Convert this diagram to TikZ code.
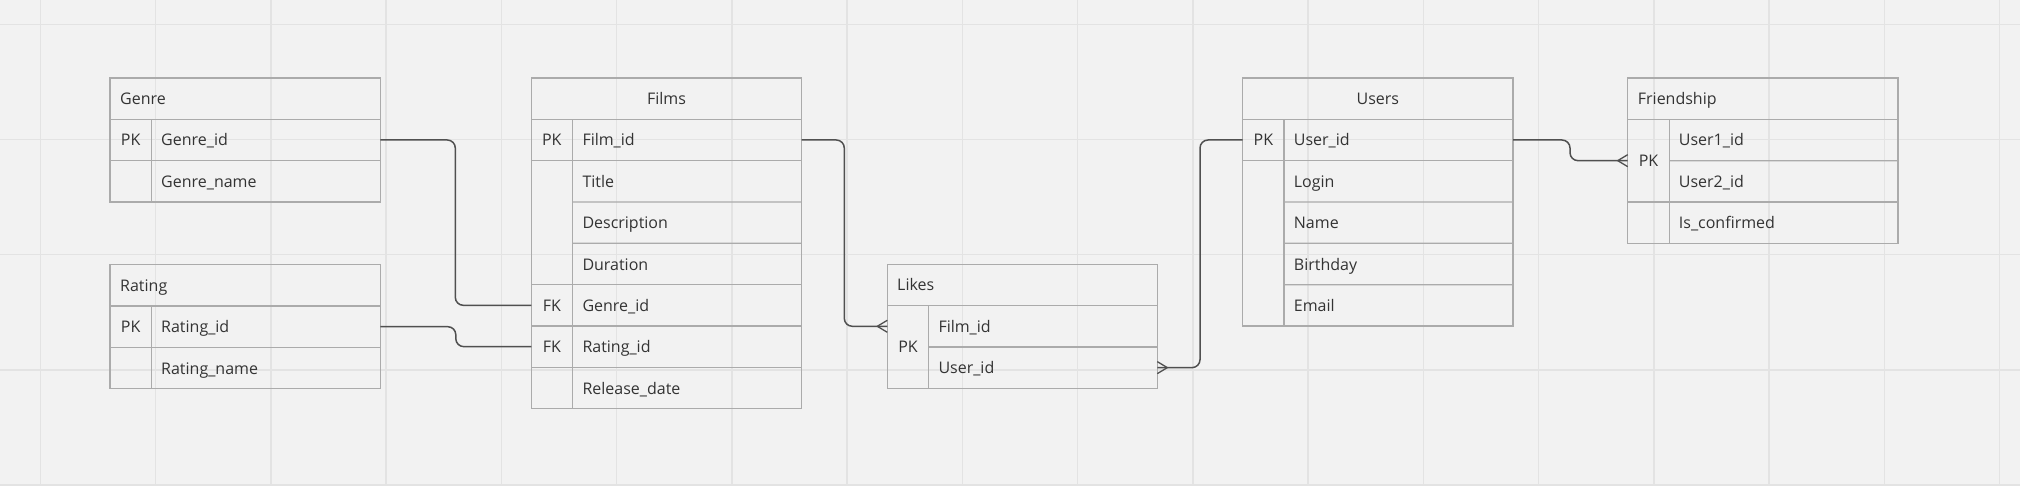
\documentclass[tikz,border=0pt]{standalone}
\usepackage{fontspec}
\setmainfont{Open Sans}
\definecolor{bgc}{HTML}{F2F2F2}
\definecolor{gridc}{HTML}{E3E3E3}
\definecolor{boxc}{HTML}{ABABAB}
\definecolor{connc}{HTML}{505050}
\definecolor{txtc}{HTML}{333333}
\tikzset{
 frame/.style={draw=boxc, line width=1.3pt, inner sep=0pt, outer sep=0pt, anchor=north west},
 rowcell/.style={draw=none, inner sep=0pt, outer sep=0pt, minimum height=41.33pt, anchor=north west},
 sepline/.style={draw=boxc, line width=1.3pt},
 conn/.style={draw=connc, line width=1.5pt, rounded corners=8pt},
 foot/.style={draw=connc, line width=1.3pt},
 txt/.style={anchor=base west, inner sep=0pt, text=txtc, font=\fontsize{16}{19}\selectfont},
 ctxt/.style={txt, anchor=base},
 gridl/.style={draw=gridc, line width=1.5pt},
}
\begin{document}
\begin{tikzpicture}[x=1pt,y=-1pt]
\fill[bgc] (0,0) rectangle (2020,486);
\useasboundingbox (0,0) rectangle (2020,486);
\foreach \k in {0,...,17} {\draw[gridl] (40.3+115.25*\k,0) -- (40.3+115.25*\k,486);}
\foreach \k in {0,...,4} {\draw[gridl] (0,24.3+115.2*\k) -- (2020,24.3+115.2*\k);}

% Genre
\begin{scope}[shift={(110,78)}]
\node[frame, minimum width=270.3pt, minimum height=124pt] (genre) at (0,0) {};
\node[rowcell, minimum width=270.3pt] (genre-1) at (0,41.33) {};
\node[rowcell, minimum width=270.3pt] (genre-2) at (0,82.67) {};
\draw[sepline] (genre-1.north west) -- (genre-1.north east);
\draw[sepline] (genre-2.north west) -- (genre-2.north east);
\draw[sepline] (41.3,41.33) -- (41.3,124);
\node[txt] at (10,26.67) {Genre};
\node[ctxt] at (20.65,68) {PK};
\node[txt] at (51,68) {Genre\_id};
\node[txt] at (51,109.33) {Genre\_name};
\end{scope}

% Rating
\begin{scope}[shift={(110,264.7)}]
\node[frame, minimum width=270.3pt, minimum height=124pt] (rating) at (0,0) {};
\node[rowcell, minimum width=270.3pt] (rating-1) at (0,41.33) {};
\node[rowcell, minimum width=270.3pt] (rating-2) at (0,82.67) {};
\draw[sepline] (rating-1.north west) -- (rating-1.north east);
\draw[sepline] (rating-2.north west) -- (rating-2.north east);
\draw[sepline] (41.3,41.33) -- (41.3,124);
\node[txt] at (10,26.67) {Rating};
\node[ctxt] at (20.65,68) {PK};
\node[txt] at (51,68) {Rating\_id};
\node[txt] at (51,109.33) {Rating\_name};
\end{scope}

% Films
\begin{scope}[shift={(531.3,78)}]
\node[frame, minimum width=270.4pt, minimum height=330.67pt] (films) at (0,0) {};
\foreach \i in {1,...,7} {\node[rowcell, minimum width=270.4pt] (films-\i) at (0,41.33*\i) {};}
\draw[sepline] (films-1.north west) -- (films-1.north east);
\draw[sepline] (films-2.north west) -- (films-2.north east);
\draw[sepline] (41,124) -- (films-3.north east);
\draw[sepline] (41,165.33) -- (films-4.north east);
\draw[sepline] (films-5.north west) -- (films-5.north east);
\draw[sepline] (films-6.north west) -- (films-6.north east);
\draw[sepline] (films-7.north west) -- (films-7.north east);
\draw[sepline] (41,41.33) -- (41,330.67);
\node[ctxt] at (135.2,26.67) {Films};
\node[ctxt] at (20.5,68) {PK};
\node[txt] at (51,68) {Film\_id};
\node[txt] at (51,109.33) {Title};
\node[txt] at (51,150.67) {Description};
\node[txt] at (51,192) {Duration};
\node[ctxt] at (20.5,233.33) {FK};
\node[txt] at (51,233.33) {Genre\_id};
\node[ctxt] at (20.5,274.67) {FK};
\node[txt] at (51,274.67) {Rating\_id};
\node[txt] at (51,316) {Release\_date};
\end{scope}

% Likes
\begin{scope}[shift={(887.3,264.3)}]
\node[frame, minimum width=270pt, minimum height=124pt] (likes) at (0,0) {};
\node[rowcell, minimum width=270pt] (likes-1) at (0,41.33) {};
\node[rowcell, minimum width=270pt] (likes-2) at (0,82.67) {};
\draw[sepline] (likes-1.north west) -- (likes-1.north east);
\draw[sepline] (41.4,82.67) -- (likes-2.north east);
\draw[sepline] (41.4,41.33) -- (41.4,124);
\node[txt] at (9.7,26.67) {Likes};
\node[ctxt] at (20.7,88.67) {PK};
\node[txt] at (51,68) {Film\_id};
\node[txt] at (51,109.33) {User\_id};
\end{scope}

% Users
\begin{scope}[shift={(1242.7,78)}]
\node[frame, minimum width=270.3pt, minimum height=248pt] (users) at (0,0) {};
\foreach \i in {1,...,5} {\node[rowcell, minimum width=270.3pt] (users-\i) at (0,41.33*\i) {};}
\draw[sepline] (users-1.north west) -- (users-1.north east);
\draw[sepline] (users-2.north west) -- (users-2.north east);
\draw[sepline] (41.3,124) -- (users-3.north east);
\draw[sepline] (41.3,165.33) -- (users-4.north east);
\draw[sepline] (41.3,206.67) -- (users-5.north east);
\draw[sepline] (41.3,41.33) -- (41.3,248);
\node[ctxt] at (135.1,26.67) {Users};
\node[ctxt] at (20.65,68) {PK};
\node[txt] at (51,68) {User\_id};
\node[txt] at (51,109.33) {Login};
\node[txt] at (51,150.67) {Name};
\node[txt] at (51,192) {Birthday};
\node[txt] at (51,233.33) {Email};
\end{scope}

% Friendship
\begin{scope}[shift={(1627.7,78)}]
\node[frame, minimum width=270.3pt, minimum height=165.33pt] (friend) at (0,0) {};
\foreach \i in {1,...,3} {\node[rowcell, minimum width=270.3pt] (friend-\i) at (0,41.33*\i) {};}
\node[rowcell, minimum width=41.6pt, minimum height=82.67pt] (friend-pk) at (0,41.33) {};
\draw[sepline] (friend-1.north west) -- (friend-1.north east);
\draw[sepline] (41.6,82.67) -- (friend-2.north east);
\draw[sepline] (friend-3.north west) -- (friend-3.north east);
\draw[sepline] (41.6,41.33) -- (41.6,165.33);
\node[txt] at (10,26.67) {Friendship};
\node[ctxt] at (20.8,88.67) {PK};
\node[txt] at (51,68) {User1\_id};
\node[txt] at (51,109.33) {User2\_id};
\node[txt] at (51,150.67) {Is\_confirmed};
\end{scope}

% Connectors
\draw[conn] (genre-1.east) -- ++(75,0) |- (films-5.west);
\draw[conn] (rating-1.east) -- ++(75.5,0) |- (films-6.west);
\draw[conn] (films-1.east) -- ++(42.6,0) |- (likes-1.west);
\draw[conn] (likes-2.east) -- ++(42.7,0) |- (users-1.west);
\draw[conn] (users-1.east) -- ++(57,0) |- (friend-pk.west);
% crow's feet
\draw[foot] (likes-1.west) ++(-10,0) -- ++(10,-6) ++(-10,6) -- ++(10,6);
\draw[foot] (likes-2.east) ++(10,0) -- ++(-10,-6) ++(10,6) -- ++(-10,6);
\draw[foot] (friend-pk.west) ++(-10,0) -- ++(10,-6) ++(-10,6) -- ++(10,6);
\end{tikzpicture}
\end{document}
